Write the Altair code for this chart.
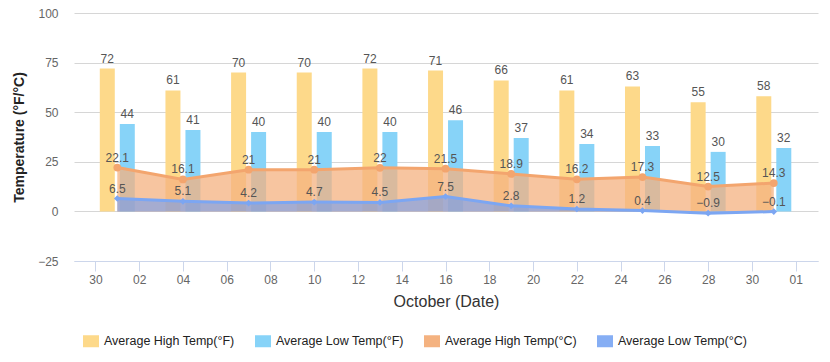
import altair as alt
import pandas as pd

# ---- data ----
dates = ["2023-10-01", "2023-10-04", "2023-10-07", "2023-10-10", "2023-10-13", "2023-10-16",
         "2023-10-19", "2023-10-22", "2023-10-25", "2023-10-28", "2023-10-31"]
high_f = [72, 61, 70, 70, 72, 71, 66, 61, 63, 55, 58]
low_f = [44, 41, 40, 40, 40, 46, 37, 34, 33, 30, 32]
high_c = [22.1, 16.1, 21, 21, 22, 21.5, 18.9, 16.2, 17.3, 12.5, 14.3]
low_c = [6.5, 5.1, 4.2, 4.7, 4.5, 7.5, 2.8, 1.2, 0.4, -0.9, -0.1]

series_names = ["Average High Temp(°F)", "Average Low Temp(°F)",
                "Average High Temp(°C)", "Average Low Temp(°C)"]
series_colors = ["#FDD98A", "#87D3F8", "#F4B280", "#86AEF4"]

# x tick positions (year, month, day)
tick_dates = [(2023, 9, 30), (2023, 10, 2), (2023, 10, 4), (2023, 10, 6), (2023, 10, 8),
              (2023, 10, 10), (2023, 10, 12), (2023, 10, 14), (2023, 10, 16), (2023, 10, 18),
              (2023, 10, 20), (2023, 10, 22), (2023, 10, 24), (2023, 10, 26), (2023, 10, 28),
              (2023, 10, 30), (2023, 11, 1)]
y_ticks = [-25, 0, 25, 50, 75, 100]

FONT = "Liberation Sans"

wide = pd.DataFrame({
    "date": [d + "T00:00:00" for d in dates],
    series_names[0]: high_f,
    series_names[1]: low_f,
    series_names[2]: high_c,
    series_names[3]: low_c,
})
df = wide.melt(id_vars="date", var_name="series", value_name="value")

x_enc = alt.X(
    "date:T",
    scale=alt.Scale(domain=[alt.DateTime(year=2023, month=9, date=29, hours=6),
                            alt.DateTime(year=2023, month=11, date=1, hours=19)]),
    axis=alt.Axis(
        values=[alt.DateTime(year=y, month=m, date=d) for (y, m, d) in tick_dates],
        format="%d", title="October (Date)", grid=False,
        tickSize=10, tickColor="#ccd6eb", domainColor="#ccd6eb",
        labelPadding=3, labelFontSize=12, labelColor="#666666", labelFont=FONT,
        titleFontSize=16, titleFontWeight="normal", titleColor="#333333", titleFont=FONT,
        titlePadding=8,
    ),
)
y_enc = alt.Y(
    "value:Q",
    scale=alt.Scale(domain=[-25, 100], nice=False),
    axis=alt.Axis(
        values=y_ticks, title="Temperature (°F/°C)", domain=False, ticks=False,
        gridColor="#d6d6d6", labelPadding=16, labelFontSize=12, labelColor="#666666",
        labelFont=FONT, titleFontSize=14, titleFontWeight="bold", titleColor="#222222",
        titleFont=FONT, titlePadding=11,
    ),
)
color_enc = alt.Color(
    "series:N",
    scale=alt.Scale(domain=series_names, range=series_colors),
    legend=alt.Legend(
        title=None, orient="none", direction="horizontal", columns=4, legendX=9, legendY=320,
        columnPadding=20, labelFontSize=12.5, labelColor="#222222", labelFont=FONT,
        symbolType="M-1,-0.75H1V0.75H-1Z", symbolSize=256, symbolStrokeWidth=0,
        symbolOpacity=1, labelOffset=5, padding=0,
    ),
)

base = alt.Chart(df)


def sel(name):
    return base.transform_filter(alt.datum.series == name)


bar_hi = sel(series_names[0]).mark_bar(width=15, xOffset=-10).encode(
    x=x_enc, y=y_enc, y2=alt.datum(0), color=color_enc)
bar_lo = sel(series_names[1]).mark_bar(width=15, xOffset=10).encode(
    x=x_enc, y=y_enc, y2=alt.datum(0), color=color_enc)

area_hi = sel(series_names[2]).mark_area(color="#F4B280", opacity=0.75).encode(
    x=x_enc, y=y_enc, y2=alt.datum(0))
line_hi = sel(series_names[2]).mark_line(color="#F3A56E", strokeWidth=3).encode(x=x_enc, y=y_enc)
pt_hi = sel(series_names[2]).mark_point(shape="circle", filled=True, size=60, color="#F3A56E",
                                        opacity=1).encode(x=x_enc, y=y_enc)

area_lo = sel(series_names[3]).mark_area(color="#6E9BF0", opacity=0.6).encode(
    x=x_enc, y=y_enc, y2=alt.datum(0))
line_lo = sel(series_names[3]).mark_line(color="#7CA6F2", strokeWidth=3).encode(x=x_enc, y=y_enc)
pt_lo = sel(series_names[3]).mark_point(shape="diamond", filled=True, size=45, color="#7CA6F2",
                                        opacity=1).encode(x=x_enc, y=y_enc)

txt_kw = dict(font=FONT, fontSize=12, color="#555555", baseline="alphabetic", dy=-6)
lab_hi_f = sel(series_names[0]).mark_text(xOffset=-10, **txt_kw).encode(
    x=x_enc, y=y_enc, text=alt.Text("value:Q"))
lab_lo_f = sel(series_names[1]).mark_text(xOffset=10, **txt_kw).encode(
    x=x_enc, y=y_enc, text=alt.Text("value:Q"))
lab_hi_c = sel(series_names[2]).mark_text(**txt_kw).encode(
    x=x_enc, y=y_enc, text=alt.Text("value:Q"))
lab_lo_c = sel(series_names[3]).mark_text(**txt_kw).encode(
    x=x_enc, y=y_enc, text=alt.Text("value:Q"))

chart = alt.layer(
    bar_hi, bar_lo, area_hi, line_hi, pt_hi, area_lo, line_lo, pt_lo,
    lab_hi_f, lab_lo_f, lab_hi_c, lab_lo_c,
).properties(
    width=744, height=248,
    padding={"left": 66, "top": 5, "right": 4, "bottom": 92},
    autosize=alt.AutoSizeParams(type="none"),
).configure_view(stroke=None)

chart.save("out.html", embed_options={"renderer": "svg", "actions": False})
